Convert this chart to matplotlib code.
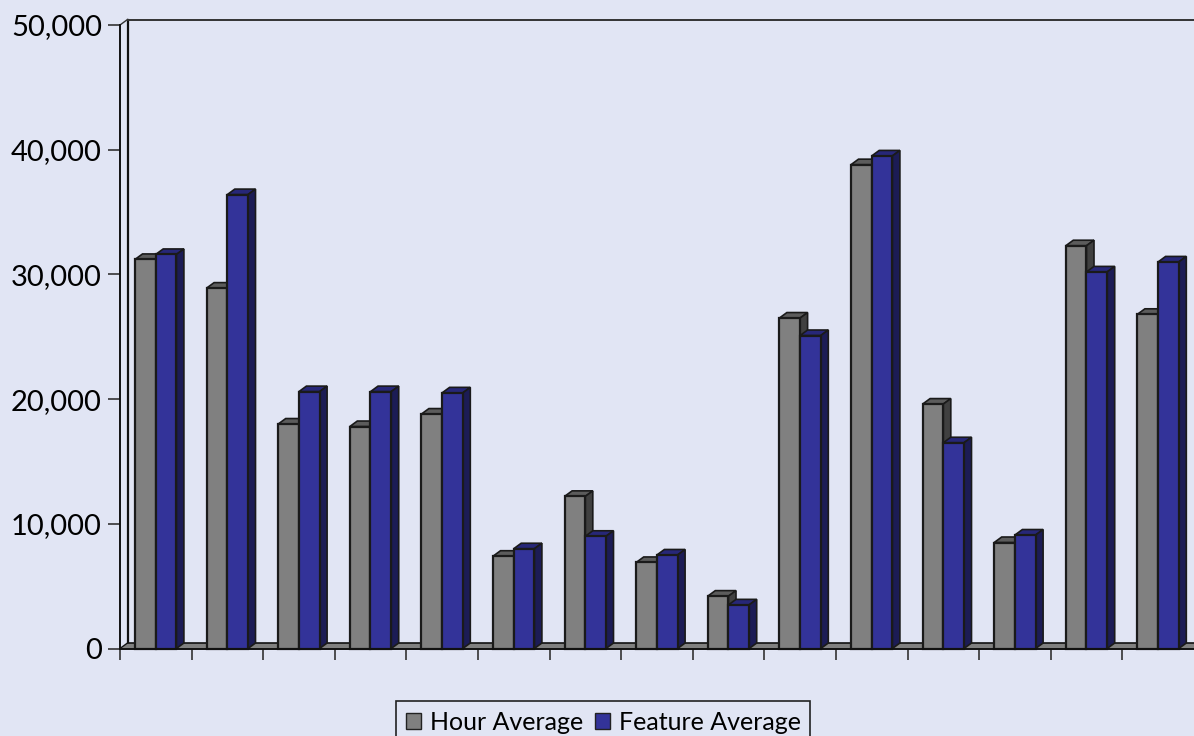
import matplotlib
matplotlib.use('Agg')
import matplotlib.pyplot as plt
from matplotlib.patches import Patch

hour_avg = [31200, 28900, 18000, 17800, 18800, 7400, 12200, 6900, 4200, 26500, 38800, 19600, 8500, 32300, 26800]
feature_avg = [31600, 36400, 20600, 20600, 20500, 8000, 9000, 7500, 3500, 25100, 39500, 16500, 9100, 30200, 31000]
y_ticks = [0, 10000, 20000, 30000, 40000, 50000]

BG = '#e1e5f4'
GRAY = ('#808080', '#5c5c5c', '#404040')   # front, top, side
BLUE = ('#333399', '#272778', '#1c1c55')

plt.rcParams['font.family'] = ['Lato', 'DejaVu Sans']

W, H = 1194, 736
STEP = 71.6
fig = plt.figure(figsize=(W / 100, H / 100), dpi=100, facecolor=BG)
# axes box is the front plane of the old 3D style chart
ax = fig.add_axes([120 / W, 1 - 648.5 / H, 1074 / W, 623.5 / H], facecolor='none')
ax.set_xlim(0, 1074 / STEP)
ax.set_ylim(0, 50000)

# depth of the 3D effect, in data units
dx = 7.5 / STEP
dy = 5.5 * 50000 / 623.5
bar_w = 20.7 / STEP
bar_off = 15.0 / STEP
xmax = ax.get_xlim()[1]


def box(x, val, cols, z):
    ax.fill([x, x + bar_w, x + bar_w, x], [0, 0, val, val], facecolor=cols[0],
            edgecolor='#1a1a1a', lw=1.6, zorder=z + 0.2, clip_on=False)
    ax.fill([x, x + bar_w, x + bar_w + dx, x + dx], [val, val, val + dy, val + dy],
            facecolor=cols[1], edgecolor='#1a1a1a', lw=1.2, zorder=z, clip_on=False)
    ax.fill([x + bar_w, x + bar_w + dx, x + bar_w + dx, x + bar_w], [0, dy, val + dy, val],
            facecolor=cols[2], edgecolor='#1a1a1a', lw=1.2, zorder=z + 0.1, clip_on=True)


# walls and floor
ax.plot([dx, dx], [dy, 50000 + dy], color='#111111', lw=1.6, clip_on=False, zorder=1)
ax.plot([dx, xmax], [50000 + dy, 50000 + dy], color='#333333', lw=1.4, clip_on=False, zorder=1)
ax.plot([0, dx], [50000, 50000 + dy], color='#333333', lw=1.0, clip_on=False, zorder=1)
ax.fill([0, xmax, xmax, dx], [0, 0, dy, dy], facecolor=GRAY[0], edgecolor='none', zorder=1)
ax.plot([dx, xmax], [dy, dy], color='#111111', lw=1.2, zorder=1.1)
ax.plot([0, dx], [0, dy], color='#111111', lw=1.0, zorder=1.1)

for i in range(len(hour_avg)):
    box(i + bar_off, hour_avg[i], GRAY, 2 + i)
    box(i + bar_off + bar_w, feature_avg[i], BLUE, 2.5 + i)

ax.spines['top'].set_visible(False)
ax.spines['right'].set_visible(False)
for s in ['left', 'bottom']:
    ax.spines[s].set_linewidth(1.4)
    ax.spines[s].set_color('#111111')
    ax.spines[s].set_zorder(30)

ax.set_yticks(y_ticks)
ax.set_yticklabels([f'{v:,}' for v in y_ticks])
ax.set_xticks(range(len(hour_avg)))
ax.set_xticklabels([])
ax.tick_params(axis='y', length=9, width=1.2, color='#333333', labelsize=21, pad=4, labelcolor='black')
ax.tick_params(axis='x', length=8, width=1.2, color='#333333')

handles = [Patch(facecolor=GRAY[0], edgecolor='#222222', label='Hour Average'),
           Patch(facecolor=BLUE[0], edgecolor='#222222', label='Feature Average')]
leg = fig.legend(handles=handles, ncol=2, loc='upper left',
                 bbox_to_anchor=(396 / W, 1 - 701 / H), borderaxespad=0,
                 fontsize=18, fancybox=False, facecolor='none', edgecolor='#222222',
                 handlelength=0.6, handleheight=0.6, handletextpad=0.36,
                 columnspacing=0.48, borderpad=0.38)
leg.get_frame().set_linewidth(1.2)
leg.get_frame().set_alpha(None)

fig.savefig('out.png', dpi=100, facecolor=BG)
